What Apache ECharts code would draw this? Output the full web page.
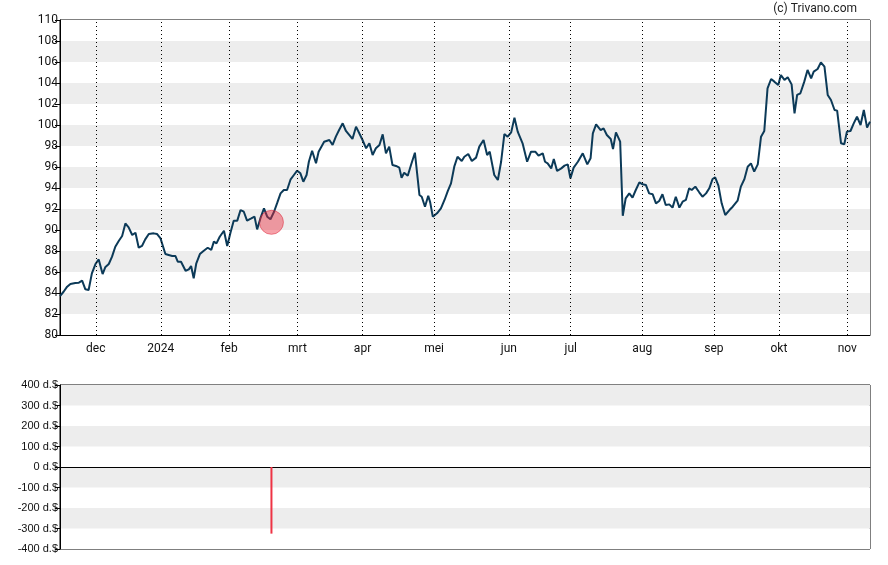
<!DOCTYPE html>
<html>
<head>
<meta charset="utf-8">
<script src="https://cdn.jsdelivr.net/npm/echarts@6/dist/echarts.min.js"></script>
<style>html,body{margin:0;padding:0;background:#fff}#c{width:888px;height:565px}</style>
</head>
<body>
<div id="c"></div>
<script>
// trading-day index (0 = first day shown) and closing price
const tradeDay = [0,1.1,2.2,3.2,4.7,5.8,6.8,7.8,8.8,9.8,10.9,11.9,13.1,13.9,15,16,17,18.1,19.1,20.1,21.1,22.2,23.2,24.2,25.2,26.2,27.3,28.8,29.8,30.9,31.7,32.4,33.4,34.5,35.5,36.2,37.2,38.6,39.6,40.3,41.1,41.9,43,44.2,45.4,46.5,47.3,48.1,49.1,50.4,51.4,52.4,53.4,54.5,55.5,56.5,57.5,58.8,59.8,60.6,61.6,62.7,63.7,64.7,65.8,66.8,67.8,68.8,69.8,70.9,71.9,72.9,73.9,74.8,75.8,76.5,77.5,78.7,79.5,81.2,82.8,83.8,84.8,85.8,86.9,87.9,88.9,89.9,91,92,93,94.1,95.1,96.1,97.1,98.2,99.2,100.2,101.2,102.2,103.3,104.3,105,105.8,106.9,107.9,109.1,110.5,111.2,112.2,113.2,113.8,114.6,115.9,117.1,118.2,119.2,120.2,121.2,122.2,123.5,124.3,125.5,126.6,127.9,128.9,130.2,131.3,132.1,133.5,134.6,135.6,136.6,137.6,138.7,139.7,140.7,142.2,143.6,144.8,146.1,147.1,148.4,149.1,149.9,151,151.8,152.8,154.1,155.1,156.1,156.9,157.9,159.2,160.7,162.1,163.1,163.8,164.8,166.2,167.1,168.1,169.3,170,170.9,172.2,173,173.9,175,176,177,178.1,179.1,180.1,181.1,182.2,183.2,184.2,185.2,186.2,187.3,188.3,189.3,190.4,191.4,192.4,193.4,194.2,195.3,196.5,197.5,198.6,199.6,200.6,201.4,202.4,203.4,204.5,205.8,206.8,208.3,209.3,210.4,211.4,212.4,213.4,214.5,215.5,216.5,217.5,218.6,219.6,220.8,221.6,222.7,223.7,224.9,225.8,226.6,227.6,228.8,229.8,230.9,231.7,232.9,233.9,235,236,237,238.1,238.9,240.1,241.1,241.9,243,244,245,246.1,247.1,248.1,249];
const close = [83.71,84.12,84.6,84.86,84.95,84.98,85.17,84.35,84.29,85.87,86.76,87.2,85.8,86.45,86.76,87.46,88.41,88.98,89.43,90.63,90.25,89.52,89.74,88.31,88.48,89.11,89.62,89.68,89.62,89.2,88.41,87.71,87.62,87.52,87.52,86.98,86.98,86.12,86.25,86.57,85.4,86.83,87.71,88.03,88.31,88.1,88.89,88.73,89.36,89.93,88.48,89.74,90.89,90.89,91.9,91.74,90.89,91.1,91.27,90.06,91.1,92.06,91.27,91.02,91.74,92.6,93.49,93.81,93.81,94.83,95.24,95.65,95.4,94.6,95.24,96.5,97.55,96.35,97.46,98.41,98.57,98.1,98.89,99.52,100.16,99.43,99.05,98.67,99.84,99.21,98.57,97.78,98.26,97.14,97.78,98.1,99.11,97.3,97.94,96.19,96.1,95.94,94.98,95.46,95.17,96.19,97.36,93.33,93.17,92.22,93.27,92.63,91.27,91.59,92.06,92.86,93.71,94.44,96.03,96.98,96.57,96.98,97.24,96.57,96.89,97.94,98.57,97.14,97.46,95.24,94.76,96.5,99.14,98.89,99.3,100.7,99.37,98.26,96.5,97.46,97.46,97.08,97.3,96.5,96.35,95.87,96.76,95.62,95.87,96.13,96.25,94.92,95.94,96.5,97.3,96.25,96.83,99.21,100.06,99.52,99.68,99.05,98.67,97.71,99.3,98.41,91.36,93.02,93.49,93.08,93.81,94.54,94.35,94.29,93.49,93.4,92.54,92.76,93.4,92.38,92.44,92.13,93.17,92.13,92.7,92.86,93.97,93.81,94.13,93.59,93.17,93.49,93.97,94.86,95.02,94.22,92.54,91.43,91.9,92.22,92.79,94.13,94.86,96.03,96.35,95.56,96.25,98.89,99.43,103.49,104.38,104.13,103.81,104.76,104.29,104.54,103.87,101.11,102.86,103.02,104.13,105.24,104.44,105.08,105.33,105.97,105.56,102.86,102.38,101.43,101.37,98.26,98.16,99.37,99.43,100.16,100.79,100,101.43,99.75,100.32];

// month boundaries (trading-day index) and their labels
const monthTicks = [11,31,52,73,93,115,138,157,179,201,221,242];
const monthLabels = ['dec','2024','feb','mrt','apr','mei','jun','jul','aug','sep','okt','nov'];

// insider transaction: day, marker price, amount
const tradeMarkDay = [65];
const tradeMarkPrice = [90.73];
const tradeAmount = [-325];

const priceData = tradeDay.map((d, i) => [d, close[i]]);
const markData = tradeMarkDay.map((d, i) => [d, tradeMarkPrice[i]]);
const barData = tradeMarkDay.map((d, i) => [d, tradeAmount[i]]);

const FONT = 'Roboto';
const chart = echarts.init(document.getElementById('c'), null, {renderer: 'canvas'});
chart.setOption({
  animation: false,
  backgroundColor: '#fff',
  graphic: [{
    type: 'text', right: 31, top: 3,
    style: {text: '(c) Trivano.com', font: '12px Roboto', fill: '#222'}
  }],
  grid: [
    {left: 60, width: 810, top: 20, height: 315, show: true, borderColor: '#000', borderWidth: 1, backgroundColor: 'transparent'},
    {left: 60, width: 810, top: 385, height: 164, show: true, borderColor: '#000', borderWidth: 1, backgroundColor: 'transparent'}
  ],
  xAxis: [
    {
      type: 'value', gridIndex: 0, min: 0, max: 249,
      axisLine: {show: true, lineStyle: {color: '#000', width: 1}},
      axisTick: {show: false, customValues: monthTicks},
      splitLine: {show: false},
      axisLabel: {
        customValues: monthTicks, margin: 8, fontFamily: FONT, fontSize: 12, color: '#111',
        formatter: v => monthLabels[monthTicks.indexOf(v)] || ''
      }
    },
    {
      type: 'value', gridIndex: 1, min: 0, max: 249,
      axisLine: {show: true, onZero: true, lineStyle: {color: '#000', width: 1}},
      axisTick: {show: false}, axisLabel: {show: false}, splitLine: {show: false}
    }
  ],
  yAxis: [
    {
      type: 'value', gridIndex: 0, min: 80, max: 110, interval: 2,
      axisLine: {show: true, lineStyle: {color: '#000'}},
      axisTick: {show: true, length: 5, lineStyle: {color: '#000'}},
      axisLabel: {margin: 2, fontFamily: FONT, fontSize: 12, color: '#111'},
      splitLine: {show: false},
      splitArea: {show: true, areaStyle: {color: ['#ffffff', '#ededed']}}
    },
    {
      type: 'value', gridIndex: 1, min: -400, max: 400, interval: 100,
      axisLine: {show: true, lineStyle: {color: '#000'}},
      axisTick: {show: true, length: 5, lineStyle: {color: '#000'}},
      axisLabel: {margin: 2, fontFamily: 'Liberation Sans', fontSize: 11, color: '#111', formatter: v => v + ' d.$'},
      splitLine: {show: false},
      splitArea: {show: true, areaStyle: {color: ['#ffffff', '#ededed']}}
    }
  ],
  series: [
    {
      type: 'line', xAxisIndex: 0, yAxisIndex: 0, data: priceData,
      showSymbol: false, symbol: 'none',
      lineStyle: {color: '#0c3a58', width: 2},
      z: 3,
      markLine: {
        silent: true, symbol: ['none', 'none'], label: {show: false},
        lineStyle: {color: '#000', type: [1, 3], width: 1},
        data: monthTicks.map(t => ({xAxis: t}))
      }
    },
    {
      type: 'scatter', xAxisIndex: 0, yAxisIndex: 0, data: markData,
      symbolSize: 24,
      itemStyle: {color: 'rgba(234,40,60,0.55)', borderColor: 'rgba(220,30,50,0.6)', borderWidth: 1},
      z: 5
    },
    {
      type: 'bar', xAxisIndex: 1, yAxisIndex: 1, data: barData,
      barWidth: 2, itemStyle: {color: '#ee3344'}
    }
  ]
});
</script>
</body>
</html>
